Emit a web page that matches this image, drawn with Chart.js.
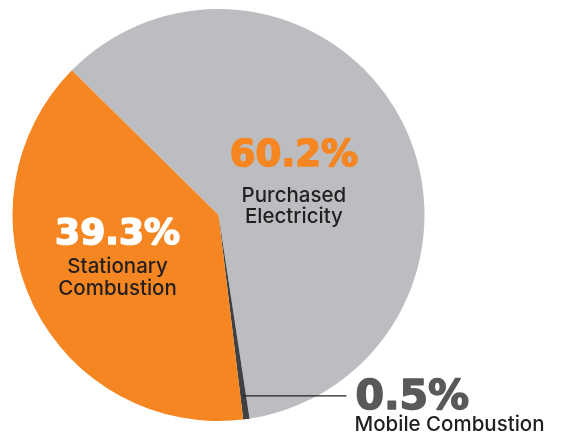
<!DOCTYPE html>
<html>
<head>
<meta charset="utf-8">
<script src="https://cdn.jsdelivr.net/npm/chart.js@4"></script>
<style>
  html, body { margin: 0; padding: 0; background: #fff; }
  #wrap { width: 563px; height: 435px; position: relative; }
</style>
</head>
<body>
<div id="wrap"><canvas id="myChart"></canvas></div>
<script>
// data, clockwise from the upper-left edge
const categories = ['Purchased Electricity', 'Mobile Combustion', 'Stationary Combustion'];
const shares = [60.2, 0.5, 39.3];
const sliceColors = ['#BCBDC0', '#3F4042', '#F58621'];

// label placement, as fractions of the pie radius from its centre
const labelLayout = [
    { dx: 0.366, dy: -0.238, align: 'center', pctSize: 37, pctColor: '#F58621', lines: ['Purchased', 'Electricity'], lineDy: [-0.063, 0.04] },
    { dx: 0.66, dy: 0.941, align: 'left', pctSize: 41, pctColor: '#58595B', lines: ['Mobile Combustion'], lineDy: [1.047], leader: true },
    { dx: -0.49, dy: 0.141, align: 'center', pctSize: 36, pctColor: '#FFFFFF', lines: ['Stationary', 'Combustion'], lineDy: [0.282, 0.388] }
];

const pieLabels = {
    id: 'pieLabels',
    afterDraw(chart) {
        const ctx = chart.ctx;
        const meta = chart.getDatasetMeta(0);
        const arc0 = meta.data[0];
        const cx = arc0.x, cy = arc0.y, r = arc0.outerRadius;
        ctx.save();
        ctx.textBaseline = 'alphabetic';
        labelLayout.forEach((lab, i) => {
            const x = cx + lab.dx * r;
            ctx.textAlign = lab.align;
            if (lab.leader) {
                const arc = meta.data[i];
                const mid = (arc.startAngle + arc.endAngle) / 2;
                const ly = cy + lab.dy * r - 13;
                const lx0 = cx + (ly - cy) / Math.tan(mid);
                ctx.strokeStyle = '#231F20';
                ctx.lineWidth = 1.3;
                ctx.beginPath();
                ctx.moveTo(lx0, ly);
                ctx.lineTo(x - 8, ly);
                ctx.stroke();
            }
            // percentage, thickened with a stroke to get the heavy look
            const pct = shares[i].toFixed(1) + '%';
            const px = lab.align === 'left' ? x + 1 : x;
            ctx.fillStyle = lab.pctColor;
            ctx.strokeStyle = lab.pctColor;
            ctx.lineWidth = 1.6;
            ctx.lineJoin = 'round';
            ctx.font = 'bold ' + lab.pctSize + 'px "DejaVu Sans"';
            ctx.fillText(pct, px, cy + lab.dy * r);
            ctx.strokeText(pct, px, cy + lab.dy * r);
            ctx.fillStyle = '#231F20';
            ctx.font = '500 20.5px Inter';
            lab.lines.forEach((t, j) => {
                ctx.fillText(t, x, cy + lab.lineDy[j] * r);
            });
        });
        ctx.restore();
    }
};

const ctx = document.getElementById('myChart').getContext('2d');
new Chart(ctx, {
    type: 'pie',
    data: {
        labels: categories,
        datasets: [{
            data: shares,
            backgroundColor: sliceColors,
            borderWidth: 0
        }]
    },
    options: {
        responsive: true,
        maintainAspectRatio: false,
        animation: false,
        rotation: -45.4,
        layout: {
            padding: { left: 12.5, right: 138.5, top: 9, bottom: 14 }
        },
        plugins: {
            legend: { display: false },
            tooltip: { enabled: false }
        }
    },
    plugins: [pieLabels]
});
</script>
</body>
</html>
